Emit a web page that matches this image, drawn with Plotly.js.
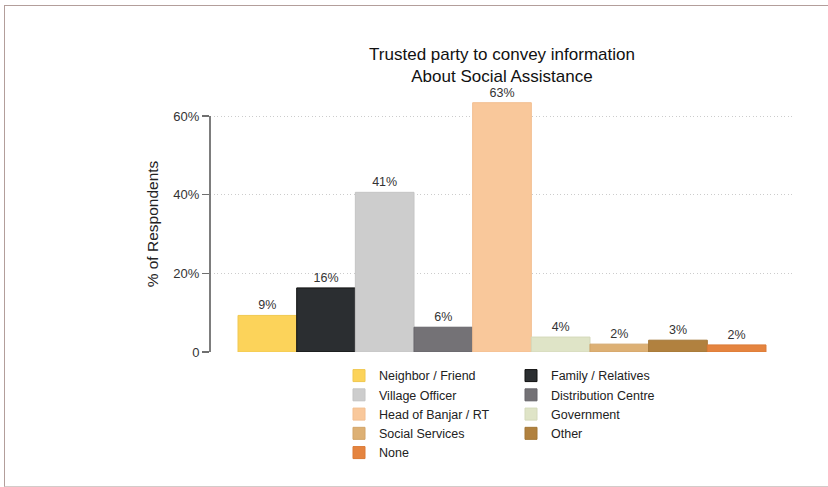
<!DOCTYPE html>
<html>
<head>
<meta charset="utf-8">
<script src="https://cdn.plot.ly/plotly-3.0.1.min.js"></script>
<style>
  html, body { margin: 0; padding: 0; background: #ffffff; }
  #wrap { position: relative; width: 828px; height: 487px; overflow: hidden; }
  #chart { position: absolute; left: 0; top: 0; width: 828px; height: 487px; }
  #frame { position: absolute; left: 4px; top: 5px; width: 840px; height: 480px;
           border-top: 1.5px solid #b39e9b; border-left: 1.5px solid #b39e9b;
           border-bottom: 1.5px solid #d3cbc9; pointer-events: none; }
</style>
</head>
<body>
<div id="wrap">
  <div id="chart"></div>
  <div id="frame"></div>
</div>
<script>
const categories = ["Neighbor / Friend", "Family / Relatives", "Village Officer", "Distribution Centre",
                    "Head of Banjar / RT", "Government", "Social Services", "Other", "None"];
const values = [9.3, 16.3, 40.6, 6.3, 63.4, 3.8, 2.0, 3.0, 1.8];
const colors = ["#FCD35A", "#2B2E31", "#CDCDCD", "#747276", "#F9C89B", "#DFE4C7", "#DDB074", "#B1813F", "#E5843F"];
const lineColors = ["#F0C850", "#111111", "#C4C4C4", "#66646A", "#F2BE90", "#D4D9BB", "#D2A468", "#A37636", "#DB7A36"];
const group = ["All"];
const yTickVals = [0, 20, 40, 60];
const yTickText = ["0", "20%", "40%", "60%"];

const FONT = "Liberation Sans, Arial, sans-serif";

const traces = categories.map((c, i) => ({
  type: "bar",
  name: c,
  legend: (i % 2 === 0) ? "legend" : "legend2",
  x: group,
  y: [values[i]],
  marker: { color: colors[i], line: { color: lineColors[i], width: 1 } },
  texttemplate: "%{y:.0f}%",
  textposition: "outside",
  cliponaxis: false,
  textfont: { family: FONT, size: 12.5, color: "#333333" },
  hoverinfo: "skip"
}));

const legendBase = {
  orientation: "v",
  y: -0.035, yanchor: "top",
  xanchor: "left",
  traceorder: "normal",
  font: { family: FONT, size: 12.5, color: "#222222" },
  bgcolor: "rgba(0,0,0,0)",
  tracegroupgap: 0,
  itemclick: false, itemdoubleclick: false
};

const layout = {
  width: 828, height: 487,
  paper_bgcolor: "rgba(0,0,0,0)",
  plot_bgcolor: "rgba(0,0,0,0)",
  margin: { l: 210, r: 34, t: 96, b: 135, pad: 0 },
  barmode: "group",
  bargap: 0.096,
  bargroupgap: 0,
  showlegend: true,
  font: { family: FONT, color: "#222222" },
  title: {
    text: "Trusted party to convey information<br>About Social Assistance",
    font: { family: FONT, size: 17, color: "#111111" },
    x: 0.5, xref: "paper", xanchor: "center",
    y: 1 - 60 / 487, yref: "container", yanchor: "middle"
  },
  xaxis: {
    showticklabels: false, showgrid: false, zeroline: false, showline: false, ticks: "",
    fixedrange: true
  },
  yaxis: {
    range: [0, 65.1],
    tickvals: yTickVals,
    ticktext: yTickText,
    ticks: "outside", ticklen: 7, tickwidth: 1.2, tickcolor: "#6f6f6f",
    tickfont: { family: FONT, size: 13, color: "#333333" },
    showgrid: true, gridcolor: "#cccccc", griddash: "1px,2.5px", gridwidth: 1,
    zeroline: false, showline: false,
    title: { text: "% of Respondents", font: { family: FONT, size: 15.5, color: "#222222" }, standoff: 10 }
  },
  shapes: [{
    type: "line", xref: "paper", yref: "y",
    x0: 0, x1: 0, y0: 0, y1: 60,
    line: { color: "#6f6f6f", width: 1.8 },
    layer: "above"
  }],
  legend: Object.assign({}, legendBase, { x: (339 - 210) / 584 }),
  legend2: Object.assign({}, legendBase, { x: (511 - 210) / 584 })
};

Plotly.newPlot("chart", traces, layout, { displayModeBar: false, staticPlot: true });
</script>
</body>
</html>
